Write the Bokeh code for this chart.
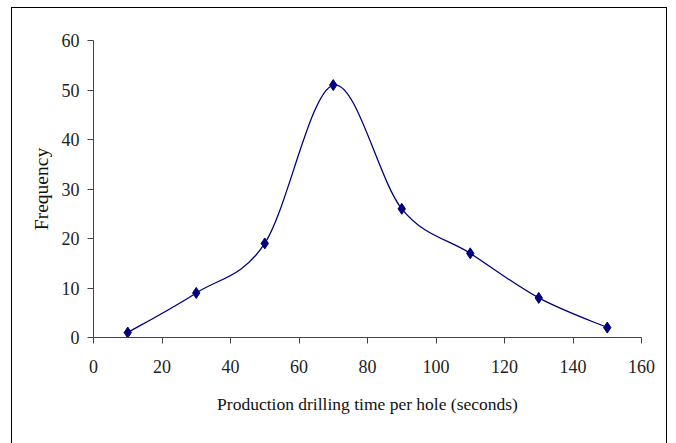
from bokeh.plotting import figure
from bokeh.models import ColumnDataSource, FixedTicker
from bokeh.embed import file_html
from bokeh.resources import INLINE

# data
drill_time = [10, 30, 50, 70, 90, 110, 130, 150]
frequency = [1, 9, 19, 51, 26, 17, 8, 2]
x_ticks = [0, 20, 40, 60, 80, 100, 120, 140, 160]
y_ticks = [0, 10, 20, 30, 40, 50, 60]

NAVY = "#000080"
FONT = "Liberation Serif"

p = figure(width=656, height=450, output_backend="svg", toolbar_location=None,
           x_range=(0, 160), y_range=(0, 60),
           min_border_left=81, min_border_right=27, min_border_top=32, min_border_bottom=121)
p.margin = (7, 0, 0, 11)
p.styles = {"border": "1.5px solid black"}
p.outline_line_color = None
p.xgrid.visible = False
p.ygrid.visible = False

for ax in (p.xaxis[0], p.yaxis[0]):
    ax.axis_line_color = "#444444"
    ax.major_tick_line_color = "#444444"
    ax.minor_tick_line_color = None
    ax.major_tick_in = 0
    ax.major_tick_out = 6
    ax.major_label_text_font = FONT
    ax.major_label_text_font_size = "18px"
    ax.major_label_text_color = "#222222"
    ax.axis_label_text_font = FONT
    ax.axis_label_text_font_size = "17.5px"
    ax.axis_label_text_font_style = "normal"
    ax.axis_label_text_color = "#111111"

p.yaxis.axis_label_text_font_size = "19.5px"
p.xaxis.ticker = FixedTicker(ticks=x_ticks)
p.yaxis.ticker = FixedTicker(ticks=y_ticks)
p.xaxis.axis_label = "Production drilling time per hole (seconds)"
p.yaxis.axis_label = "Frequency"
p.xaxis.major_label_standoff = 16
p.yaxis.major_label_standoff = 8
p.xaxis.axis_label_standoff = 18
p.yaxis.axis_label_standoff = 7

# smoothed line (Catmull-Rom -> cubic Bezier) computed from the data points
n = len(drill_time)
x0, y0, x1, y1, cx0, cy0, cx1, cy1 = [], [], [], [], [], [], [], []
for i in range(n - 1):
    ip = max(i - 1, 0)
    inn = min(i + 2, n - 1)
    xa, ya = drill_time[i], frequency[i]
    xb, yb = drill_time[i + 1], frequency[i + 1]
    x0.append(xa); y0.append(ya); x1.append(xb); y1.append(yb)
    cx0.append(xa + (xb - drill_time[ip]) / 6.0)
    cy0.append(ya + (yb - frequency[ip]) / 6.0)
    cx1.append(xb - (drill_time[inn] - xa) / 6.0)
    cy1.append(yb - (frequency[inn] - ya) / 6.0)
src = ColumnDataSource(dict(x0=x0, y0=y0, x1=x1, y1=y1, cx0=cx0, cy0=cy0, cx1=cx1, cy1=cy1))
p.bezier(x0="x0", y0="y0", x1="x1", y1="y1", cx0="cx0", cy0="cy0", cx1="cx1", cy1="cy1",
         source=src, line_color=NAVY, line_width=1.3)
p.scatter(drill_time, frequency, marker="diamond", size=11, fill_color=NAVY, line_color=NAVY)

open("out.html", "w").write(file_html(p, INLINE))
